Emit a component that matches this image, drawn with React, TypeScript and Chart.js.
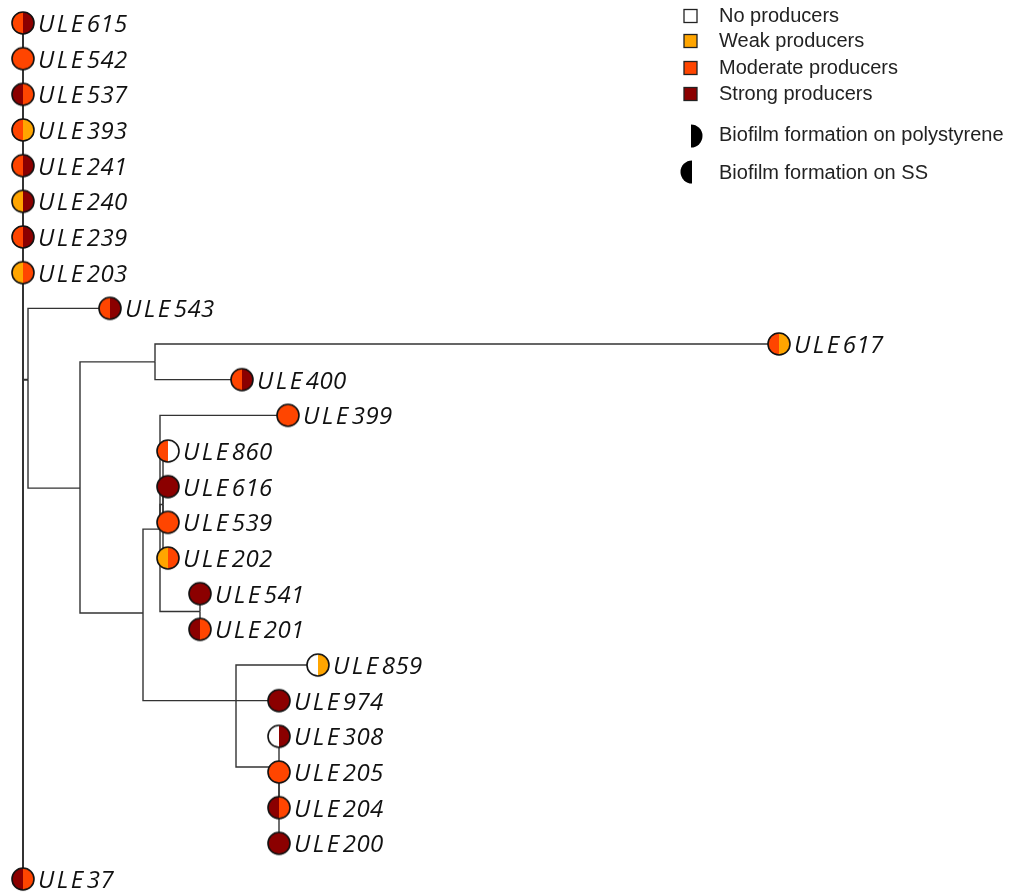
import React, { useEffect, useRef } from "react";
import { Chart, registerables } from "chart.js";

Chart.register(...registerables);

// Biofilm production levels (index used in tip arrays)
const levelNames = ["No producers", "Weak producers", "Moderate producers", "Strong producers"];
const levelColors = ["#FFFFFF", "#FFA500", "#FF4500", "#8B0000"];

// Tips of the tree
const tipNames = [
  "ULE615", "ULE542", "ULE537", "ULE393", "ULE241", "ULE240", "ULE239", "ULE203",
  "ULE543", "ULE617", "ULE400", "ULE399", "ULE860", "ULE616", "ULE539", "ULE202",
  "ULE541", "ULE201", "ULE859", "ULE974", "ULE308", "ULE205", "ULE204", "ULE200", "ULE37",
];
const tipRow = [0, 1, 2, 3, 4, 5, 6, 7, 8, 9, 10, 11, 12, 13, 14, 15, 16, 17, 18, 19, 20, 21, 22, 23, 24];
const tipDist = [
  0, 0, 0, 0, 0, 0, 0, 0,
  0.087, 0.756, 0.219, 0.265, 0.145, 0.145, 0.145, 0.145,
  0.177, 0.177, 0.295, 0.256, 0.256, 0.256, 0.256, 0.256, 0,
];
const tipParent = [
  "root", "root", "root", "root", "root", "root", "root", "root",
  "n28", "n155", "n155", "n160", "g163", "g163", "g163", "g163",
  "n200", "n200", "n236", "n236", "g279", "g279", "g279", "g279", "root",
];
// left half: biofilm on stainless steel (SS); right half: on polystyrene
const tipSS = [2, 2, 3, 2, 2, 1, 2, 1, 2, 2, 2, 2, 2, 3, 2, 1, 3, 3, 0, 3, 0, 2, 3, 3, 3];
const tipPS = [3, 2, 2, 1, 3, 3, 3, 2, 3, 1, 3, 2, 0, 3, 2, 2, 3, 2, 1, 3, 3, 2, 2, 3, 2];

// Internal nodes
const nodeIds = ["root", "n28", "n80", "n155", "n143", "n160", "g163", "n200", "n236", "g279"];
const nodeParent = [null, "root", "n28", "n80", "n80", "n143", "n160", "n160", "n143", "n236"];
const nodeDist = [0, 0.005, 0.057, 0.132, 0.12, 0.137, 0.14, 0.177, 0.213, 0.256];
const nodeRow = [12, 10.0, 13.04, 9.5, 16.54, 14.19, 13.5, 16.5, 19, 20.86];

const RADIUS = 11;

function makeHalfCircle(left: string, right: string): HTMLCanvasElement {
  const size = RADIUS * 2 + 4;
  const c = document.createElement("canvas");
  c.width = size;
  c.height = size;
  const ctx = c.getContext("2d")!;
  const cx = size / 2;
  const cy = size / 2;
  ctx.fillStyle = left;
  ctx.beginPath();
  ctx.moveTo(cx, cy);
  ctx.arc(cx, cy, RADIUS, Math.PI / 2, (3 * Math.PI) / 2);
  ctx.closePath();
  ctx.fill();
  ctx.fillStyle = right;
  ctx.beginPath();
  ctx.moveTo(cx, cy);
  ctx.arc(cx, cy, RADIUS, -Math.PI / 2, Math.PI / 2);
  ctx.closePath();
  ctx.fill();
  ctx.strokeStyle = "#111111";
  ctx.lineWidth = 1.6;
  ctx.beginPath();
  ctx.arc(cx, cy, RADIUS, 0, Math.PI * 2);
  ctx.stroke();
  return c;
}

export default function App() {
  const ref = useRef<HTMLCanvasElement | null>(null);

  useEffect(() => {
    document.body.style.margin = "0";
    const canvas = ref.current;
    if (!canvas) return;

    const pos: Record<string, { x: number; y: number }> = {};
    nodeIds.forEach((id, i) => {
      pos[id] = { x: nodeDist[i], y: nodeRow[i] };
    });

    const edgeSets: any[] = [];
    const addEdge = (parentId: string, x: number, y: number) => {
      const p = pos[parentId];
      const isRoot = parentId === "root";
      edgeSets.push({
        type: "line",
        data: [
          { x: p.x, y: p.y },
          { x: p.x, y: y },
          { x: x, y: y },
        ],
        borderColor: "#333333",
        borderWidth: isRoot ? 2 : 1.4,
        pointRadius: 0,
        fill: false,
        tension: 0,
        order: 2,
      });
    };
    nodeIds.forEach((id, i) => {
      const par = nodeParent[i];
      if (par) addEdge(par, nodeDist[i], nodeRow[i]);
    });
    tipNames.forEach((_, i) => addEdge(tipParent[i], tipDist[i], tipRow[i]));

    const styles = tipNames.map((_, i) => makeHalfCircle(levelColors[tipSS[i]], levelColors[tipPS[i]]));

    const tipSet = {
      type: "scatter",
      data: tipNames.map((_, i) => ({ x: tipDist[i], y: tipRow[i] })),
      pointStyle: styles,
      pointRadius: RADIUS,
      showLine: false,
      order: 0,
    };

    const labelPlugin = {
      id: "tipLabels",
      afterDatasetsDraw(chart: any) {
        const meta = chart.getDatasetMeta(0);
        const ctx = chart.ctx;
        ctx.save();
        ctx.fillStyle = "#111111";
        ctx.textBaseline = "alphabetic";
        ctx.font = "italic 24px 'Open Sans'";
        meta.data.forEach((el: any, i: number) => {
          const name = tipNames[i];
          const prefix = name.slice(0, 3);
          const num = name.slice(3);
          (ctx as any).letterSpacing = "2.5px";
          ctx.fillText(prefix, el.x + 15, el.y + 9);
          const w = ctx.measureText(prefix).width;
          (ctx as any).letterSpacing = "0.5px";
          ctx.fillText(num, el.x + 15 + w + 1, el.y + 9);
        });
        (ctx as any).letterSpacing = "0px";
        ctx.restore();
      },
    };

    const legendPlugin = {
      id: "customLegend",
      afterDraw(chart: any) {
        const ctx = chart.ctx;
        ctx.save();
        ctx.font = "20px 'Liberation Sans'";
        ctx.textBaseline = "middle";
        const rows = [16, 41, 68, 94];
        levelNames.forEach((name, i) => {
          const y = rows[i];
          ctx.fillStyle = levelColors[i];
          ctx.fillRect(684, y - 6.5, 13, 13);
          ctx.strokeStyle = "#222222";
          ctx.lineWidth = 1.3;
          ctx.strokeRect(684, y - 6.5, 13, 13);
          ctx.fillStyle = "#222222";
          ctx.fillText(name, 719, y);
        });
        // polystyrene: right half disc
        ctx.fillStyle = "#000000";
        ctx.beginPath();
        ctx.moveTo(691, 136);
        ctx.arc(691, 136, 11.5, -Math.PI / 2, Math.PI / 2);
        ctx.closePath();
        ctx.fill();
        ctx.fillStyle = "#222222";
        ctx.fillText("Biofilm formation on polystyrene", 719, 135);
        // SS: left half disc
        ctx.fillStyle = "#000000";
        ctx.beginPath();
        ctx.moveTo(692, 172);
        ctx.arc(692, 172, 11.5, Math.PI / 2, (3 * Math.PI) / 2);
        ctx.closePath();
        ctx.fill();
        ctx.fillStyle = "#222222";
        ctx.fillText("Biofilm formation on SS", 719, 173);
        ctx.restore();
      },
    };

    const chart = new Chart(canvas, {
      type: "scatter",
      data: { datasets: [tipSet, ...edgeSets] as any },
      options: {
        animation: false,
        responsive: false,
        layout: { padding: 0, autoPadding: false },
        plugins: { legend: { display: false }, tooltip: { enabled: false } },
        scales: {
          x: { type: "linear", display: false, min: -0.023, max: 0.988 },
          y: { type: "linear", display: false, reverse: true, min: -23 / 35.667, max: (892 - 23) / 35.667 },
        },
      },
      plugins: [labelPlugin, legendPlugin],
    });
    return () => chart.destroy();
  }, []);

  return (
    <div style={{ width: 1011, height: 892, background: "#fff" }}>
      <canvas ref={ref} width={1011} height={892} style={{ display: "block" }} />
    </div>
  );
}
